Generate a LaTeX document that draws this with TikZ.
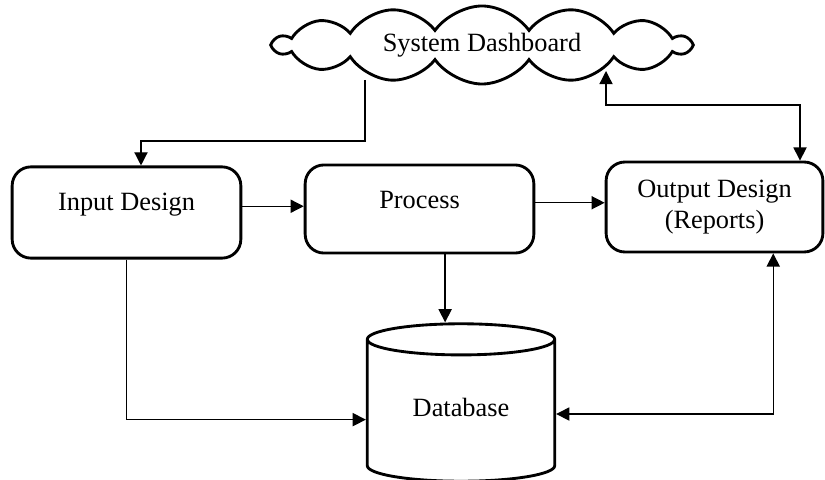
\documentclass[tikz,border=0pt]{standalone}
\usepackage{fontspec}
\setmainfont{Liberation Serif}
\usetikzlibrary{shapes.geometric, shapes.symbols, arrows.meta}
\tikzstyle{stage} = [rectangle, rounded corners=0.3cm, draw, line width=1.3pt, text centered, font=\fontsize{12}{13.8}\selectfont]
\tikzstyle{puffy} = [cloud, cloud puffs=14, cloud puff arc=110, aspect=6, inner sep=0pt, draw, line width=1.3pt, font=\fontsize{12}{15}\selectfont]
\tikzstyle{store} = [cylinder, shape border rotate=90, aspect=0.28, draw, line width=1.3pt, font=\fontsize{12}{15}\selectfont]
\tikzstyle{arrow} = [line width=0.6pt, ->, >={Triangle[length=6pt,width=6pt]}]

\begin{document}
\begin{tikzpicture}[x=0.016cm, y=-0.016cm]
            \useasboundingbox (0,0) rectangle (825,480);
            \node [puffy, minimum width=6.65cm, minimum height=1.02cm] at (482,45) (board) {System Dashboard};
            \node [stage, minimum width=3.66cm, minimum height=1.46cm, text depth=10pt] at (126.5,212.5) (input) {Input Design};
            \node [stage, minimum width=3.66cm, minimum height=1.41cm, text depth=8pt] at (419.5,209) (process) {Process};
            \node [stage, minimum width=3.47cm, minimum height=1.44cm, align=center] at (714.5,207) (output) {Output Design\\ (Reports)};
            \node [store, minimum width=3.0cm, minimum height=2.52cm, anchor=shape center, text depth=6pt] at (461,402.5) (db) {Database};

            \coordinate (boardout) at (365,80);
            \coordinate (bendin) at (141,141);
            \coordinate (boardin) at (606,71);
            \coordinate (bendout) at (800,105);

            \draw [arrow] (boardout) |- (bendin) -- (bendin |- input.north);
            \draw [arrow, <->] (boardin) |- (bendout) -- (bendout |- output.north);
            \draw [arrow] ([yshift=0.1cm]input.east) -- ([yshift=0.1cm]input.east -| process.west);
            \draw [arrow] ([yshift=0.1cm]process.east) -- ([yshift=0.1cm]process.east -| output.west);
            \draw [arrow] ([xshift=0.41cm]process.south) -- ([xshift=0.41cm]process.south |- db.north);
            \draw [arrow] (input.south) |- ([yshift=-0.09cm]db.west);
            \draw [arrow, <->] ([xshift=0.94cm]output.south) |- (db.east);
\end{tikzpicture}
\end{document}
